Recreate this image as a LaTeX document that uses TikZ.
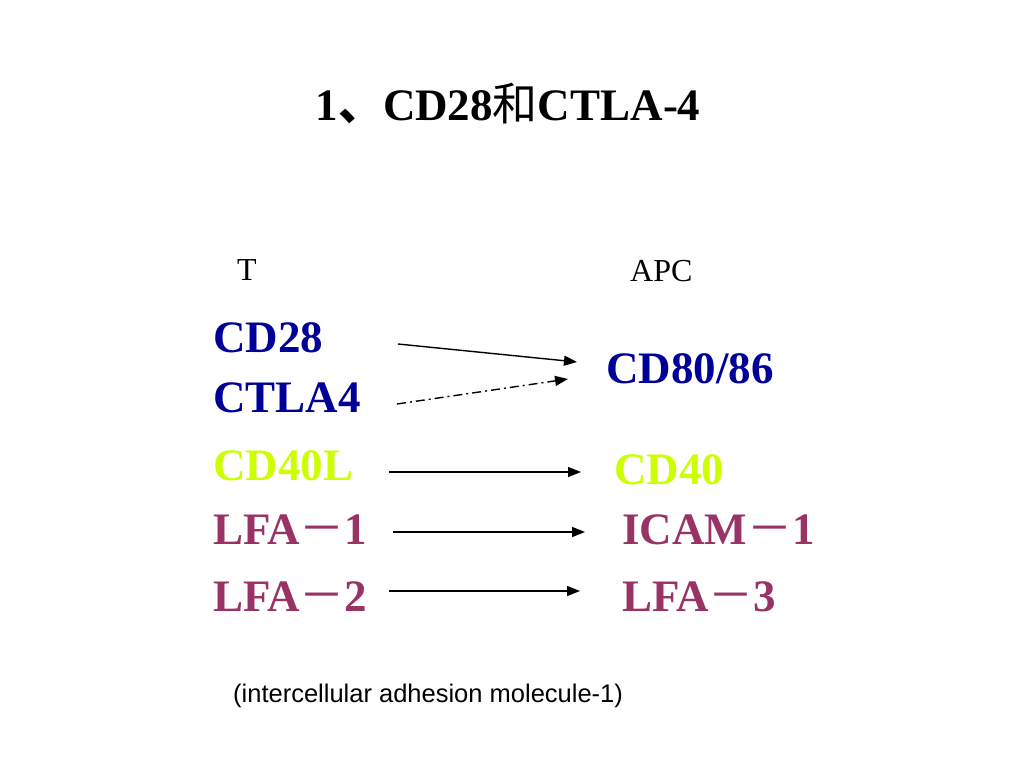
\documentclass[tikz,border=0pt]{standalone}
\usepackage{fontspec}
\setmainfont{Liberation Serif}
\setsansfont{Liberation Sans}
\newfontfamily\cjk{Noto Sans CJK SC}
\usepackage{tikz}
\usetikzlibrary{arrows.meta}
\definecolor{molblue}{RGB}{0,0,153}
\definecolor{molgreen}{RGB}{204,255,0}
\definecolor{molpink}{RGB}{153,51,102}
\newcommand{\mdash}{{\cjk\mdseries －}}
\tikzstyle{mol} = [inner sep=0pt, anchor=base west, font=\fontsize{45}{45}\selectfont\bfseries]
\tikzstyle{cell} = [inner sep=0pt, anchor=base west, font=\fontsize{32}{32}\selectfont]
\tikzstyle{arrow} = [line width=1.4pt, -{Triangle[length=13pt,width=10pt]}]

\begin{document}
\begin{tikzpicture}[x=1pt,y=-1pt]
			\useasboundingbox (0,0) rectangle (1024,768);
			\node(title) at (508,120)[inner sep=0pt, anchor=base, font=\fontsize{45}{45}\selectfont\bfseries]{1{\cjk 、}CD28{\cjk\mdseries 和}CTLA-4};
			
			\node[cell](t) at (237,280){T};
			\node[cell](apc) at (630,281){APC};
			
			\node[mol, molblue](cd28) at (213,352){CD28};
			\node[mol, molblue](ctla4) at (213,412){CTLA4};
			\node[mol, molblue](cd80) at (606,383){CD80/86};
			\node[mol, molgreen](cd40l) at (213,480){CD40L};
			\node[mol, molgreen](cd40) at (614,484){CD40};
			\node[mol, molpink](lfa1) at (213,544){LFA\mdash1};
			\node[mol, molpink](icam) at (622,544){ICAM\mdash1};
			\node[mol, molpink](lfa2) at (213,611){LFA\mdash2};
			\node[mol, molpink](lfa3) at (622,611){LFA\mdash3};
			
			\draw[arrow] ([xshift=185pt,yshift=8pt]cd28.base west) -- ([xshift=-29pt,yshift=21pt]cd80.base west);
			\draw[arrow, dash pattern=on 9pt off 4pt on 2pt off 4pt] ([xshift=184pt,yshift=8pt]ctla4.base west) -- ([xshift=-38pt,yshift=4pt]cd80.base west);
			\draw[arrow] ([xshift=176pt,yshift=8pt]cd40l.base west) -- ([xshift=-33pt,yshift=12pt]cd40.base west);
			\draw[arrow] ([xshift=180pt,yshift=12pt]lfa1.base west) -- ([xshift=-37pt,yshift=12pt]icam.base west);
			\draw[arrow] ([xshift=176pt,yshift=20pt]lfa2.base west) -- ([xshift=-42pt,yshift=20pt]lfa3.base west);
			
			\node(note) at (233,702)[inner sep=0pt, anchor=base west, font=\sffamily\fontsize{25.5}{25.5}\selectfont]{(intercellular adhesion molecule-1)};
		\end{tikzpicture}
\end{document}
